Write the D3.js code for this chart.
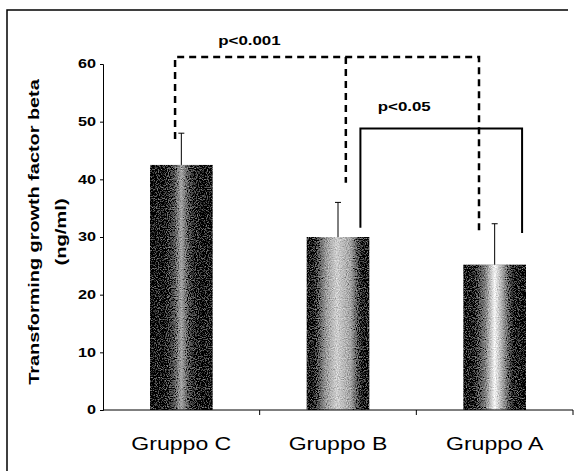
<!DOCTYPE html>
<html>
<head>
<meta charset="utf-8">
<script src="https://cdn.jsdelivr.net/npm/d3@7"></script>
<style>
  body { margin: 0; background: #fff; }
  text { font-family: Arial, "Liberation Sans", sans-serif; fill: #000; }
</style>
</head>
<body>
<div class="chart"></div>
<script>
// data
var groups = ["Gruppo C", "Gruppo B", "Gruppo A"];
var means = [42.5, 30, 25.2];
var errors = [5.5, 6, 7.1];
var yTicks = [0, 10, 20, 30, 40, 50, 60];
// significance brackets: [from, to, top value, left end, right end, label]
var sigFrom = ["Gruppo C", "Gruppo B"];
var sigTo = ["Gruppo A", "Gruppo A"];
var sigTop = [61.2, 48.8];
var sigLeftEnd = [47, 31.6];
var sigRightEnd = [30.9, 30.7];
var sigLabels = ["p<0.001", "p<0.05"];

var W = 578, H = 471;
var margin = {top: 64, right: 5, bottom: 61, left: 103};
var width = W - margin.left - margin.right,
    height = H - margin.top - margin.bottom;

var svg = d3.select(".chart").append("svg")
    .attr("width", W)
    .attr("height", H);

// stretched look of the scanned text
function stretch(sel, k) {
  sel.each(function() {
    var l = this.getComputedTextLength();
    d3.select(this).attr("textLength", l * k).attr("lengthAdjust", "spacingAndGlyphs");
  });
}

// frame (only top and left edges are visible)
svg.append("path")
    .attr("d", "M7,471V10H568")
    .attr("fill", "none")
    .attr("stroke", "#000")
    .attr("stroke-width", 1.5);

// gradients for the bars
var defs = svg.append("defs");
var grads = [
  [[0, "#000"], [0.2, "#0a0a0a"], [0.38, "#555"], [0.5, "#a5a5a5"], [0.62, "#555"], [0.8, "#0a0a0a"], [1, "#000"]],
  [[0, "#000"], [0.1, "#222"], [0.3, "#999"], [0.48, "#cfcfcf"], [0.7, "#a5a5a5"], [0.88, "#2a2a2a"], [1, "#000"]],
  [[0, "#000"], [0.12, "#111"], [0.36, "#888"], [0.5, "#f5f5f5"], [0.62, "#aaa"], [0.82, "#1a1a1a"], [1, "#000"]]
];
grads.forEach(function(stops, i) {
  var gr = defs.append("linearGradient")
      .attr("id", "grad" + i)
      .attr("x1", "0%").attr("x2", "100%").attr("y1", "0%").attr("y2", "0%");
  stops.forEach(function(s) {
    gr.append("stop").attr("offset", s[0]).attr("stop-color", s[1]);
  });
});

// grain, like the printed halftone
var f = defs.append("filter").attr("id", "grain")
    .attr("x", 0).attr("y", 0).attr("width", 1).attr("height", 1);
f.append("feTurbulence")
    .attr("type", "fractalNoise").attr("baseFrequency", 0.9)
    .attr("numOctaves", 1).attr("seed", 4).attr("result", "n");
f.append("feColorMatrix")
    .attr("in", "n").attr("type", "matrix")
    .attr("values", "0.33 0.33 0.33 0 0  0.33 0.33 0.33 0 0  0.33 0.33 0.33 0 0  0 0 0 0 1")
    .attr("result", "ng");
f.append("feComposite")
    .attr("in", "SourceGraphic").attr("in2", "ng")
    .attr("operator", "arithmetic")
    .attr("k1", 0).attr("k2", 1).attr("k3", 1.4).attr("k4", -0.7)
    .attr("result", "mix");
f.append("feComposite")
    .attr("in", "mix").attr("in2", "SourceGraphic").attr("operator", "in");

var g = svg.append("g")
    .attr("transform", "translate(" + margin.left + "," + margin.top + ")");

var x = d3.scaleBand().domain(groups).range([0, width]);
var y = d3.scaleLinear().domain([0, 60]).range([height, 0]);
var barW = x.bandwidth() * 0.4;
function cx(d) { return x(d) + x.bandwidth() / 2; }

// bars
g.selectAll(".bar")
  .data(groups)
  .enter().append("rect")
    .attr("class", "bar")
    .attr("x", function(d) { return cx(d) - barW / 2; })
    .attr("y", function(d, i) { return y(means[i]); })
    .attr("width", barW)
    .attr("height", function(d, i) { return height - y(means[i]); })
    .attr("fill", function(d, i) { return "url(#grad" + i + ")"; })
    .attr("filter", "url(#grain)");

// error bars (upper only)
var err = g.selectAll(".err")
  .data(groups)
  .enter().append("g")
    .attr("class", "err")
    .attr("stroke", "#000")
    .attr("stroke-width", 1);
err.append("line")
    .attr("x1", cx).attr("x2", cx)
    .attr("y1", function(d, i) { return y(means[i]); })
    .attr("y2", function(d, i) { return y(means[i] + errors[i]); });
err.append("line")
    .attr("x1", function(d) { return cx(d) - 3; })
    .attr("x2", function(d) { return cx(d) + 3; })
    .attr("y1", function(d, i) { return y(means[i] + errors[i]); })
    .attr("y2", function(d, i) { return y(means[i] + errors[i]); });

// y axis
var yAxis = d3.axisLeft(y).tickValues(yTicks).tickSize(3).tickPadding(4);
var ya = g.append("g").call(yAxis);
ya.select(".domain").attr("stroke-width", 1);
ya.selectAll("text")
    .style("font-size", "12px")
    .style("font-weight", "bold")
    .call(stretch, 1.35);

// x axis: baseline with ticks at group boundaries
var xa = g.append("g").attr("transform", "translate(0," + height + ")");
xa.append("line")
    .attr("x1", 0).attr("x2", width)
    .attr("stroke", "#000").attr("stroke-width", 1);
xa.selectAll(".xtick")
  .data(groups.slice(1).concat(["end"]))
  .enter().append("line")
    .attr("class", "xtick")
    .attr("x1", function(d) { return d === "end" ? width : x(d); })
    .attr("x2", function(d) { return d === "end" ? width : x(d); })
    .attr("y1", 0).attr("y2", 5)
    .attr("stroke", "#000");
xa.selectAll(".xlab")
  .data(groups)
  .enter().append("text")
    .attr("class", "xlab")
    .attr("x", cx)
    .attr("y", 40)
    .attr("text-anchor", "middle")
    .style("font-size", "18px")
    .text(function(d) { return d; })
    .call(stretch, 1.28);

// y axis title
var yt = svg.append("g").attr("transform", "translate(39,232) rotate(-90)");
yt.append("text")
    .attr("text-anchor", "middle")
    .style("font-size", "15.5px")
    .style("font-weight", "bold")
    .text("Transforming growth factor beta")
    .call(stretch, 1.28);
yt.append("text")
    .attr("text-anchor", "middle")
    .attr("y", 27)
    .style("font-size", "15.5px")
    .style("font-weight", "bold")
    .text("(ng/ml)")
    .call(stretch, 1.3);

// significance brackets
var offL = [-0.04, 0.143], offR = [-0.1, 0.175], offMid = 0.05;
sigLabels.forEach(function(lab, i) {
  var xl = cx(sigFrom[i]) + offL[i] * x.bandwidth();
  var xr = cx(sigTo[i]) + offR[i] * x.bandwidth();
  var yt0 = y(sigTop[i]);
  var xm = cx("Gruppo B") + offMid * x.bandwidth();
  var b = g.append("g")
      .attr("fill", "none")
      .attr("stroke", "#000")
      .attr("stroke-width", i === 0 ? 2.5 : 2)
      .attr("stroke-dasharray", i === 0 ? "7,5" : null);
  b.append("path")
      .attr("d", "M" + xl + "," + y(sigLeftEnd[i]) + "V" + yt0 + "H" + xr + "V" + y(sigRightEnd[i]));
  if (i === 0) {
    // middle drop to Gruppo B
    b.append("line")
        .attr("x1", xm).attr("x2", xm)
        .attr("y1", yt0).attr("y2", y(39.4));
  }
  g.append("text")
      .attr("x", i === 0 ? (xl + xm) / 2 - 11 : (xl + xr) / 2 - 37)
      .attr("y", yt0 - 12 - (i === 0 ? 0 : 6))
      .attr("text-anchor", "middle")
      .style("font-size", "13px")
      .style("font-weight", "bold")
      .text(lab)
      .call(stretch, 1.3);
});
</script>
</body>
</html>
